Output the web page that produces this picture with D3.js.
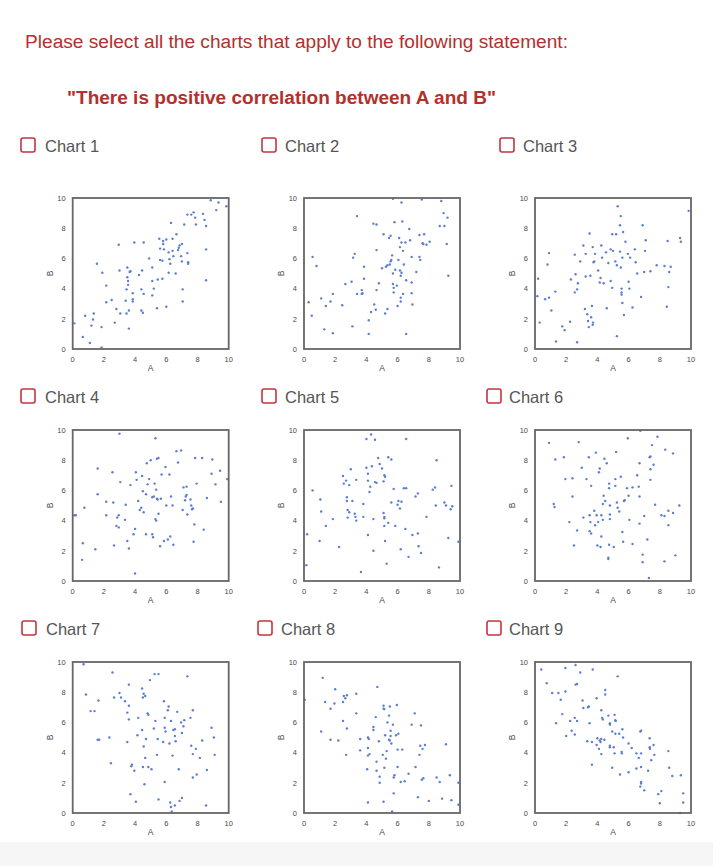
<!DOCTYPE html>
<html lang="en">
<head>
<meta charset="utf-8">
<title>Correlation charts</title>
<script src="https://d3js.org/d3.v7.min.js"></script>
<style>
  body { margin: 0; background: #fff; }
  svg { display: block; font-family: "Liberation Sans", Arial, Helvetica, sans-serif; }
</style>
</head>
<body>
<div id="chart"></div>
<script>
// texts
const promptText = "Please select all the charts that apply to the following statement:";
const statementText = "\"There is positive correlation between A and B\"";
const chartNames = ["Chart 1", "Chart 2", "Chart 3", "Chart 4", "Chart 5", "Chart 6", "Chart 7", "Chart 8", "Chart 9"];
const tickValues = [0, 2, 4, 6, 8, 10];
const xLabel = "A";
const yLabel = "B";

// points [A, B]
const chart1 = [[0.1,1.7],[0.65,0.8],[0.8,2.2],[1.1,0.4],[1.2,1.55],[1.3,1.95],[1.35,2.35],[1.55,5.65],[1.85,1.45],[1.85,0.1],[1.9,5.05],[2.15,4.2],[2.15,3.1],[2.5,3.25],[2.7,1.75],[2.8,2.65],[2.95,6.9],[3.0,5.2],[3.05,2.35],[3.4,3.2],[3.45,3.95],[3.5,5.4],[3.45,2.35],[3.5,4.75],[3.55,4.5],[3.55,4.25],[3.6,2.55],[3.6,1.35],[3.65,5.1],[3.7,5.15],[3.85,3.7],[3.85,3.3],[3.85,3.15],[3.95,7.05],[4.25,4.9],[4.4,3.95],[4.4,2.55],[4.45,5.2],[4.5,2.4],[4.55,3.65],[4.55,7.05],[4.9,6.0],[5.1,4.5],[5.1,5.4],[5.1,3.55],[5.2,4.0],[5.4,2.7],[5.45,4.6],[5.55,7.3],[5.6,5.9],[5.6,6.65],[5.75,4.65],[5.75,5.85],[5.8,7.15],[5.8,6.95],[5.85,6.6],[6.0,7.25],[6.0,2.8],[6.15,5.05],[6.15,6.4],[6.2,5.95],[6.25,5.65],[6.3,8.35],[6.4,7.3],[6.4,6.5],[6.45,6.15],[6.6,5.0],[6.65,7.6],[6.75,6.55],[6.8,6.7],[6.85,6.85],[6.95,6.15],[7.0,5.8],[7.0,6.95],[7.05,3.95],[7.05,3.15],[7.15,8.25],[7.35,8.9],[7.35,6.35],[7.4,5.75],[7.4,5.65],[7.6,8.9],[7.75,9.05],[7.85,8.7],[7.9,8.25],[8.35,8.95],[8.45,8.55],[8.55,4.55],[8.55,8.15],[8.55,6.6],[8.85,9.85],[9.2,9.2],[9.35,9.7],[9.85,9.45]];

const chart2 = [[0.3,3.1],[0.5,2.2],[0.55,6.1],[0.8,5.5],[1.1,3.35],[1.3,1.3],[1.4,2.85],[1.7,3.15],[1.85,3.65],[1.85,1.05],[2.45,2.9],[2.65,4.3],[3.05,4.45],[3.1,1.5],[3.15,6.05],[3.25,6.3],[3.4,8.8],[3.4,3.65],[3.7,3.65],[3.7,3.9],[3.75,3.7],[3.85,5.45],[3.85,4.65],[4.15,1.9],[4.15,1.0],[4.3,2.45],[4.45,8.3],[4.5,2.95],[4.6,2.6],[4.65,8.25],[4.65,6.55],[4.65,3.9],[4.8,4.35],[5.0,5.35],[5.1,7.6],[5.2,2.35],[5.25,5.45],[5.35,2.65],[5.35,5.55],[5.45,7.35],[5.5,5.6],[5.55,7.5],[5.55,5.8],[5.6,5.9],[5.65,6.2],[5.7,9.95],[5.7,4.3],[5.7,5.0],[5.75,4.05],[5.75,3.75],[5.8,8.4],[5.85,5.25],[5.95,4.2],[6.0,2.85],[6.05,5.9],[6.1,7.35],[6.15,6.75],[6.15,5.2],[6.2,3.4],[6.2,3.15],[6.2,4.85],[6.25,9.7],[6.25,7.05],[6.25,5.05],[6.3,8.45],[6.35,6.5],[6.35,3.65],[6.4,5.6],[6.5,7.05],[6.55,4.55],[6.55,1.0],[6.75,7.95],[6.8,7.2],[6.9,6.1],[6.9,4.4],[6.9,3.7],[6.95,2.95],[7.2,5.1],[7.4,7.55],[7.4,6.1],[7.45,5.9],[7.55,9.9],[7.6,7.0],[7.65,6.95],[7.7,7.6],[7.85,6.9],[8.05,7.1],[8.7,8.15],[8.8,9.8],[8.95,9.0],[9.0,8.15],[9.15,6.95],[9.2,8.7],[9.25,4.85]];

const chart3 = [[0.15,3.5],[0.2,4.65],[0.3,1.75],[0.65,3.3],[0.8,5.6],[0.9,3.4],[0.9,6.35],[1.05,2.55],[1.3,3.8],[1.35,0.5],[1.75,1.5],[1.9,1.25],[2.25,1.8],[2.3,4.6],[2.55,3.75],[2.55,6.25],[2.6,4.95],[2.7,3.95],[2.75,4.35],[2.7,0.45],[2.9,5.8],[3.1,6.85],[3.2,2.65],[3.25,6.3],[3.25,4.8],[3.35,2.3],[3.4,1.85],[3.45,1.45],[3.5,7.65],[3.55,4.85],[3.6,2.1],[3.65,2.85],[3.7,6.75],[3.7,1.6],[3.72,1.75],[3.75,5.75],[3.8,5.8],[3.85,6.3],[4.05,5.2],[4.15,4.4],[4.2,4.7],[4.25,6.85],[4.3,6.05],[4.4,4.35],[4.55,6.4],[4.6,2.7],[4.7,5.7],[4.85,4.5],[4.85,6.6],[4.95,4.05],[4.95,7.6],[5.0,6.5],[5.15,5.8],[5.2,7.6],[5.25,5.55],[5.25,0.85],[5.3,9.45],[5.45,8.2],[5.45,6.45],[5.5,8.8],[5.5,5.4],[5.55,4.0],[5.55,3.75],[5.55,3.6],[5.6,3.05],[5.6,6.05],[5.65,7.75],[5.7,2.25],[5.8,7.1],[5.95,6.3],[6.0,4.45],[6.05,4.0],[6.1,6.05],[6.25,2.75],[6.4,6.6],[6.45,5.75],[6.55,5.0],[6.8,3.45],[6.9,8.2],[7.0,5.1],[7.05,6.5],[7.1,7.2],[7.4,5.15],[7.8,5.55],[8.3,5.5],[8.45,2.8],[8.5,7.15],[8.55,4.1],[8.6,5.1],[8.7,5.45],[9.3,7.35],[9.35,7.1],[9.85,9.15]];

const chart4 = [[0.1,4.35],[0.2,4.35],[0.6,1.4],[0.65,2.5],[0.75,4.85],[1.45,2.1],[1.6,5.75],[1.6,7.45],[2.15,5.25],[2.15,4.35],[2.55,7.2],[2.6,5.2],[2.65,2.35],[2.8,3.65],[2.85,4.2],[2.95,4.35],[2.95,3.55],[3.0,9.75],[3.05,6.55],[3.35,4.05],[3.4,5.05],[3.5,2.65],[3.6,2.15],[3.7,6.35],[3.9,3.1],[4.0,0.5],[4.0,3.45],[4.05,7.2],[4.1,6.7],[4.2,5.3],[4.3,4.7],[4.4,4.85],[4.45,6.95],[4.5,5.95],[4.55,4.55],[4.7,3.1],[4.7,5.75],[4.75,7.8],[4.8,6.4],[4.9,6.75],[5.0,8.0],[5.1,3.1],[5.1,5.55],[5.15,2.9],[5.2,5.6],[5.25,6.45],[5.3,4.1],[5.3,9.45],[5.35,4.0],[5.35,6.05],[5.4,8.1],[5.4,5.45],[5.45,5.4],[5.5,4.45],[5.5,8.15],[5.6,2.3],[5.65,5.45],[5.7,7.05],[5.85,2.65],[5.95,7.55],[6.0,5.0],[6.1,2.75],[6.2,7.05],[6.25,2.95],[6.3,5.6],[6.4,5.0],[6.45,2.4],[6.65,8.6],[6.75,7.85],[6.95,8.65],[7.05,4.7],[7.1,6.2],[7.2,5.35],[7.25,5.6],[7.3,6.25],[7.3,5.7],[7.35,4.4],[7.55,5.4],[7.6,5.0],[7.65,4.75],[7.7,4.8],[7.75,2.6],[7.8,3.75],[7.85,8.15],[7.95,6.45],[8.3,8.15],[8.4,3.4],[8.6,5.5],[8.9,7.1],[8.95,8.05],[9.15,6.4],[9.45,7.3],[9.5,5.25],[9.9,6.75]];

const chart5 = [[0.15,1.05],[0.2,3.1],[0.55,6.0],[1.0,2.65],[1.05,5.4],[1.1,4.6],[1.4,3.65],[1.85,4.1],[2.25,2.25],[2.5,6.95],[2.55,6.45],[2.7,6.65],[2.75,5.55],[2.75,5.3],[2.8,4.7],[2.8,4.2],[2.9,4.55],[2.9,6.35],[3.0,7.4],[3.1,5.3],[3.25,4.45],[3.3,4.25],[3.35,4.0],[3.35,6.7],[3.65,0.6],[3.8,5.1],[3.8,4.25],[4.0,9.4],[4.0,7.5],[4.1,7.1],[4.1,6.65],[4.1,3.05],[4.2,5.9],[4.25,6.25],[4.3,9.7],[4.35,7.6],[4.45,2.0],[4.45,4.1],[4.55,9.35],[4.55,6.55],[4.65,6.5],[4.75,8.15],[4.85,7.75],[5.0,7.45],[5.1,4.5],[5.1,6.6],[5.15,7.0],[5.2,6.9],[5.15,4.25],[5.15,4.15],[5.15,3.65],[5.2,2.65],[5.3,1.15],[5.4,8.2],[5.4,3.85],[5.6,8.05],[5.6,5.2],[5.75,6.1],[5.85,3.65],[6.0,5.05],[6.05,5.3],[6.15,4.8],[6.2,2.1],[6.25,5.25],[6.4,6.15],[6.5,3.45],[6.55,9.4],[6.55,6.15],[6.7,1.6],[6.95,3.05],[7.15,5.6],[7.3,5.8],[7.3,3.15],[7.35,2.3],[7.5,1.85],[7.85,4.25],[8.25,6.05],[8.4,6.2],[8.45,5.0],[8.5,8.0],[8.65,0.9],[9.0,5.2],[9.1,5.0],[9.25,2.85],[9.4,4.75],[9.45,6.3],[9.5,4.95],[9.9,2.6]];

const chart6 = [[0.9,9.15],[1.3,8.05],[1.2,5.1],[1.25,4.9],[1.85,8.2],[1.95,6.75],[2.2,3.9],[2.4,6.8],[2.4,5.6],[2.5,2.35],[2.7,3.35],[2.8,9.2],[3.0,7.5],[3.1,4.2],[3.3,6.75],[3.45,8.2],[3.5,4.35],[3.5,3.3],[3.55,3.9],[3.6,3.15],[3.6,6.3],[3.8,4.65],[3.85,3.7],[3.9,8.5],[3.95,4.35],[4.0,2.35],[4.05,3.9],[4.1,7.2],[4.15,7.45],[4.2,2.25],[4.25,4.35],[4.25,2.95],[4.35,4.05],[4.4,5.65],[4.35,5.1],[4.45,8.1],[4.5,5.3],[4.6,7.8],[4.7,1.55],[4.7,1.45],[4.75,6.15],[4.75,6.45],[4.75,2.4],[4.8,5.0],[4.8,4.4],[4.8,4.1],[5.05,2.25],[5.15,6.75],[5.15,6.3],[5.2,8.55],[5.25,5.2],[5.3,4.85],[5.4,4.6],[5.5,6.9],[5.6,3.25],[5.65,2.6],[5.7,5.3],[5.75,5.35],[5.9,6.15],[5.95,9.45],[6.0,5.65],[6.05,4.05],[6.25,6.2],[6.25,2.45],[6.55,7.0],[6.65,6.25],[6.7,5.6],[6.7,3.8],[6.7,7.8],[6.75,9.95],[6.9,1.75],[6.9,1.25],[7.0,4.3],[7.2,2.75],[7.3,0.2],[7.35,8.2],[7.4,8.25],[7.4,6.7],[7.4,7.4],[7.5,9.0],[7.6,7.7],[7.7,5.05],[7.85,9.55],[8.1,4.35],[8.3,4.3],[8.3,1.3],[8.35,8.7],[8.55,4.65],[8.55,3.7],[8.85,8.45],[8.85,4.5],[9.0,1.7],[9.25,5.0]];

const chart7 = [[0.7,9.85],[0.85,7.85],[1.15,6.75],[1.4,6.75],[1.6,4.85],[1.65,7.45],[1.7,4.85],[2.35,5.0],[2.45,3.3],[2.55,9.3],[2.65,7.65],[3.0,7.95],[3.1,7.65],[3.35,7.4],[3.5,6.65],[3.5,4.7],[3.6,8.5],[3.6,6.2],[3.6,7.1],[3.7,1.25],[3.75,3.1],[3.8,3.2],[3.95,2.8],[4.05,0.75],[4.15,5.15],[4.2,6.3],[4.45,8.25],[4.45,5.5],[4.5,7.65],[4.5,3.05],[4.55,7.9],[4.55,4.4],[4.6,1.9],[4.65,7.75],[4.65,3.65],[4.7,4.9],[4.8,6.6],[4.85,6.5],[4.85,3.05],[4.95,8.8],[5.05,2.9],[5.2,5.6],[5.25,9.2],[5.3,6.1],[5.4,3.85],[5.45,4.9],[5.5,9.2],[5.5,0.9],[5.8,4.7],[5.85,7.4],[5.9,6.3],[5.9,5.65],[5.95,5.4],[5.9,2.05],[6.1,6.8],[6.15,7.05],[6.2,4.6],[6.25,0.7],[6.3,0.4],[6.3,6.1],[6.35,0.1],[6.4,3.8],[6.45,5.5],[6.55,5.55],[6.55,0.5],[6.55,5.1],[6.6,4.75],[6.7,6.7],[6.8,2.9],[6.85,0.8],[6.95,6.0],[7.0,5.3],[7.0,1.0],[7.1,5.75],[7.15,6.15],[7.35,9.05],[7.55,6.3],[7.6,4.45],[7.7,6.8],[7.7,2.35],[7.7,3.9],[7.9,4.25],[7.95,2.55],[8.15,3.65],[8.3,4.8],[8.55,0.5],[8.6,2.85],[8.9,5.65],[9.05,5.0],[9.1,3.85]];

const chart8 = [[0.05,7.5],[1.1,5.4],[1.2,8.95],[1.35,7.35],[1.7,4.85],[1.7,6.9],[1.95,7.25],[2.0,8.2],[2.2,4.8],[2.5,6.1],[2.5,7.35],[2.55,7.75],[2.65,7.6],[2.75,7.8],[2.7,3.85],[2.75,5.6],[3.35,7.9],[3.35,6.6],[3.6,4.9],[3.6,4.15],[4.05,2.9],[4.1,5.0],[4.1,4.3],[4.1,3.8],[4.1,0.7],[4.15,4.9],[4.2,3.9],[4.45,5.7],[4.45,5.5],[4.6,6.35],[4.65,3.4],[4.65,2.8],[4.7,8.35],[4.8,4.75],[4.85,2.4],[4.85,2.0],[5.05,3.85],[5.1,7.1],[5.1,6.9],[5.15,6.88],[5.1,0.75],[5.15,3.0],[5.2,5.15],[5.25,3.6],[5.3,4.1],[5.35,6.0],[5.45,6.45],[5.45,4.85],[5.5,4.8],[5.5,7.05],[5.55,5.45],[5.55,5.1],[5.6,4.6],[5.65,0.1],[5.7,5.85],[5.75,2.35],[5.75,1.3],[5.8,2.5],[5.9,5.15],[5.95,7.15],[6.0,3.05],[6.0,4.2],[6.05,5.25],[6.2,2.05],[6.3,4.2],[6.45,2.1],[6.7,2.6],[6.9,5.85],[7.1,6.6],[7.15,3.05],[7.3,1.05],[7.4,3.85],[7.45,4.45],[7.5,5.8],[7.55,2.2],[7.6,4.25],[7.65,2.3],[7.75,4.5],[8.0,0.8],[8.5,2.35],[8.7,2.05],[8.85,0.95],[9.1,4.55],[9.35,2.5],[9.45,0.85],[9.9,2.0],[9.9,0.55]];

const chart9 = [[0.4,9.5],[0.75,8.6],[1.1,7.95],[1.35,5.95],[1.5,7.95],[1.65,7.5],[1.75,6.55],[1.95,9.6],[1.95,8.05],[2.0,5.1],[2.25,6.1],[2.35,5.45],[2.55,6.3],[2.55,5.2],[2.6,9.8],[2.6,8.5],[2.7,8.55],[2.7,6.1],[2.9,9.3],[3.05,7.45],[3.1,6.95],[3.35,4.75],[3.4,7.0],[3.45,7.05],[3.5,5.95],[3.65,3.2],[3.65,4.7],[3.7,9.5],[3.95,4.5],[3.95,7.6],[4.0,4.95],[4.1,4.25],[4.15,4.8],[4.2,4.7],[4.25,6.8],[4.25,4.9],[4.25,3.9],[4.3,6.3],[4.35,6.2],[4.5,8.15],[4.5,7.85],[4.45,4.85],[4.7,6.45],[4.8,5.95],[4.8,5.85],[4.8,4.45],[4.8,4.35],[4.95,3.0],[4.95,5.4],[5.05,4.35],[5.1,6.5],[5.15,6.15],[5.17,6.1],[5.1,3.95],[5.15,5.25],[5.3,9.05],[5.4,5.25],[5.45,2.55],[5.55,4.05],[5.57,3.95],[5.6,5.55],[5.65,5.0],[6.0,2.7],[6.0,4.6],[6.2,4.3],[6.5,2.95],[6.5,3.95],[6.65,3.65],[6.75,5.4],[6.8,5.45],[6.8,3.05],[6.8,3.95],[6.8,2.05],[6.8,1.95],[6.75,1.75],[7.0,1.5],[7.25,2.8],[7.35,4.95],[7.35,4.35],[7.37,4.25],[7.45,3.5],[7.6,4.5],[7.65,3.85],[7.9,1.25],[8.0,0.65],[8.1,1.45],[8.55,4.1],[8.6,3.0],[8.8,2.45],[9.35,2.5],[9.5,1.3],[9.5,0.7],[9.3,0.0]];

const allCharts = [chart1, chart2, chart3, chart4, chart5, chart6, chart7, chart8, chart9];

// page layout
const W = 726, H = 866;
const plotW = 156, plotH = 151;
const colX = [72.7, 304, 535];
const rowY = [198, 430, 662];
// checkbox + label positions for each chart [boxX, textX, baseline]
const labelPos = [
  [21, 45, 152], [262, 285, 152], [500, 523, 152],
  [21, 45, 403], [262, 285, 403], [487, 509, 403],
  [22, 46, 635], [258, 281, 635], [487, 509, 635]
];

const red = "#b3302b";
const pointColor = "#5b7fcf";

const svg = d3.select("#chart").append("svg")
  .attr("width", W)
  .attr("height", H);

// light band at the very bottom
svg.append("rect")
  .attr("x", 0).attr("y", 842)
  .attr("width", 713).attr("height", 24)
  .attr("fill", "#f6f6f6");

svg.append("text")
  .attr("x", 25).attr("y", 48)
  .attr("fill", red)
  .attr("font-size", 18)
  .attr("textLength", 543)
  .attr("lengthAdjust", "spacingAndGlyphs")
  .text(promptText);

svg.append("text")
  .attr("x", 67).attr("y", 104)
  .attr("fill", red)
  .attr("font-size", 18)
  .attr("font-weight", "bold")
  .attr("textLength", 429)
  .attr("lengthAdjust", "spacingAndGlyphs")
  .text(statementText);

const x = d3.scaleLinear().domain([0, 10]).range([0, plotW]);
const y = d3.scaleLinear().domain([0, 10]).range([plotH, 0]);

allCharts.forEach((pts, i) => {
  const lp = labelPos[i];

  // checkbox and label
  svg.append("rect")
    .attr("x", lp[0]).attr("y", lp[2] - 14)
    .attr("width", 14).attr("height", 14)
    .attr("rx", 2)
    .attr("fill", "#fff")
    .attr("stroke", "#c43440")
    .attr("stroke-width", 1.6);
  svg.append("text")
    .attr("x", lp[1]).attr("y", lp[2])
    .attr("fill", "#555")
    .attr("font-size", 16.5)
    .text(chartNames[i]);

  const g = svg.append("g")
    .attr("transform", `translate(${colX[i % 3]},${rowY[Math.floor(i / 3)]})`);

  // tick labels
  g.selectAll(".yt").data(tickValues).enter().append("text")
    .attr("x", -7)
    .attr("y", d => y(d) + 2.7)
    .attr("text-anchor", "end")
    .attr("font-size", 7.5)
    .attr("fill", "#4a4a4a")
    .text(d => d);
  g.selectAll(".xt").data(tickValues).enter().append("text")
    .attr("x", d => x(d))
    .attr("y", plotH + 12.5)
    .attr("text-anchor", "middle")
    .attr("font-size", 7.5)
    .attr("fill", "#4a4a4a")
    .text(d => d);

  g.append("text")
    .attr("x", plotW / 2).attr("y", plotH + 22)
    .attr("text-anchor", "middle")
    .attr("font-size", 8.5)
    .attr("fill", "#4a4a4a")
    .text(xLabel);
  g.append("text")
    .attr("transform", `translate(-20,${plotH / 2}) rotate(-90)`)
    .attr("text-anchor", "middle")
    .attr("font-size", 8.5)
    .attr("fill", "#4a4a4a")
    .text(yLabel);

  // points
  g.selectAll("circle").data(pts).enter().append("circle")
    .attr("cx", d => x(d[0]))
    .attr("cy", d => y(d[1]))
    .attr("r", 1.2)
    .attr("fill", pointColor);

  // frame
  g.append("rect")
    .attr("width", plotW).attr("height", plotH)
    .attr("fill", "none")
    .attr("stroke", "#666")
    .attr("stroke-width", 1.8);
});
</script>
</body>
</html>
